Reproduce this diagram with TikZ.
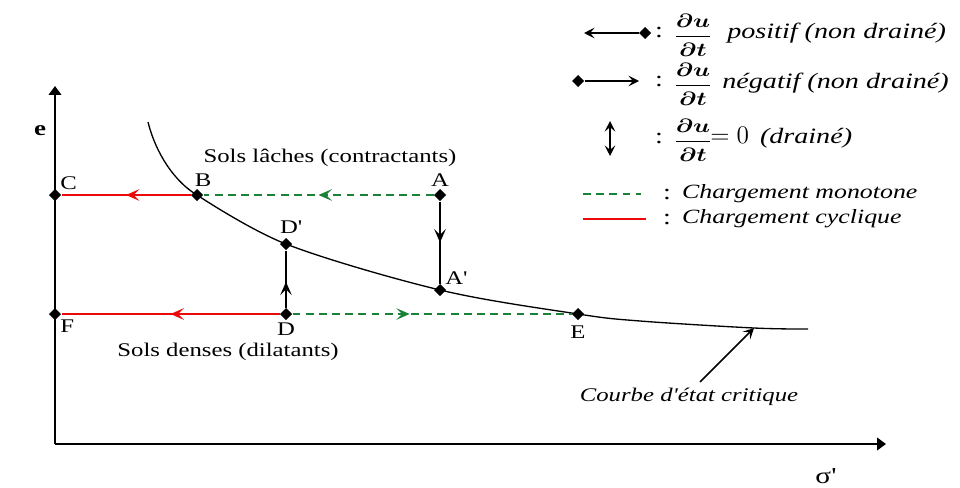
\documentclass[tikz,border=0pt]{standalone}
\usepackage{fontspec}
\setmainfont[FakeStretch=1.28,Ligatures=TeXOff]{Liberation Serif}
\usetikzlibrary{shapes.geometric,arrows.meta,decorations.markings}

\definecolor{monogreen}{RGB}{25,130,55}
\definecolor{cycred}{RGB}{235,10,10}

\tikzset{
  pt/.style={diamond,fill=black,inner sep=0pt,minimum width=7pt,minimum height=7pt},
  lbl/.style={font=\fontsize{11}{13}\selectfont,inner sep=1pt},
  leg/.style={font=\fontsize{12.5}{15}\selectfont,inner sep=0pt},
  frac/.style={font=\fontsize{11}{13}\selectfont\boldmath,inner sep=0pt},
  midarrow/.style={postaction={decorate},decoration={markings,
    mark=at position #1 with {\arrow{Stealth[length=7.5pt,width=6.5pt,inset=3.2pt]}}}},
  midarrow/.default=0.5,
  mono/.style={monogreen,dash pattern=on 4.5pt off 3pt,line width=1.1pt},
  cyc/.style={cycred,line width=1.7pt},
  vert/.style={black,line width=1.1pt},
  axis/.style={line width=1.5pt,-{Triangle[length=5pt,width=7pt]}},
  legtip/.tip={Stealth[length=6pt,width=6pt,inset=2.5pt]}
}

\begin{document}
\begin{tikzpicture}[x=0.02cm,y=-0.02cm]
\useasboundingbox (0,0) rectangle (960,487);

\coordinate (O) at (55,444);
\coordinate (ytip) at (55,86);
\coordinate (xtip) at (886,444);
\draw[axis] (O) -- (ytip);
\draw[axis] (O) -- (xtip);
\node[lbl,font=\fontsize{12}{14}\selectfont\bfseries] (elbl) at (40,131) {e};
\node[lbl,font=\fontsize{13}{15}\selectfont] (slbl) at (826,476) {σ'};

\node[pt,label={[lbl]above right:C}] (C) at (55,195) {};
\node[pt,label={[lbl,xshift=3.5pt]above:B}] (B) at (197,195) {};
\node[pt,label={[lbl]above:A}] (A) at (440,195) {};
\node[pt,label={[lbl,xshift=3pt,yshift=1pt]above:D'}] (Dp) at (286,244) {};
\node[pt,label={[lbl]above right:A'}] (Ap) at (440,290) {};
\node[pt,label={[lbl]below right:F}] (F) at (55,314) {};
\node[pt,label={[lbl]below:D}] (D) at (286,314) {};
\node[pt,label={[lbl,yshift=-2pt]below:E}] (E) at (578,314) {};

\coordinate (cs) at (148,122);
\coordinate (ce) at (808,329);
\coordinate (chead) at (754,328);
\coordinate (ctail) at (700,382);
\draw[line width=0.75pt] (cs) .. controls (156,154) and (175,182) .. (B.center)
  plot[smooth,tension=0.55] coordinates
  {(B.center) (Dp.center) (Ap.center) (E.center) (640,321) (chead) (ce)};

\draw[cyc,midarrow] (B) -- (C);
\draw[mono,midarrow] (A) -- (B);
\draw[vert,midarrow] (A) -- (Ap);
\draw[vert,midarrow=0.45] (D) -- (Dp);
\draw[cyc,midarrow] (D) -- (F);
\draw[mono,midarrow=0.42] (D) -- (E);

\node[lbl] (loose) at (330,158) {Sols lâches (contractants)};
\node[lbl] (dense) at (228,352) {Sols denses (dilatants)};
\node[lbl,font=\fontsize{11}{13}\selectfont\itshape] (crit) at (689,397) {Courbe d'état critique};
\draw[line width=0.9pt,-legtip] (ctail) -- (chead);

\coordinate (l1a) at (584,33);
\node[pt] (l1b) at (645,33) {};
\draw[line width=1pt,legtip-] (l1a) -- (l1b);
\node[leg] (k1) at (659,33) {:};
\node[frac] (f1) at (693,35) {\scalebox{1.3}[1]{$\displaystyle\frac{\partial u}{\partial t}$}};
\node[leg,anchor=west] (t1) at (727,33) {\itshape positif (non drainé)};

\node[pt] (l2a) at (578,81) {};
\coordinate (l2b) at (639,81);
\draw[line width=1pt,-legtip] (l2a) -- (l2b);
\node[leg] (k2) at (659,81) {:};
\node[frac] (f2) at (693,84) {\scalebox{1.3}[1]{$\displaystyle\frac{\partial u}{\partial t}$}};
\node[leg,anchor=west] (t2) at (722,83) {\itshape négatif (non drainé)};

\coordinate (l3a) at (610,121);
\coordinate (l3b) at (610,156);
\draw[line width=1pt,legtip-legtip] (l3a) -- (l3b);
\node[leg] (k3) at (659,138) {:};
\node[frac] (f3) at (693,140) {\scalebox{1.3}[1]{$\displaystyle\frac{\partial u}{\partial t}$}};
\node[leg,anchor=west] (t3) at (710,138) {{\fontsize{14}{16}\selectfont$=0$}\enspace\itshape(drainé)};

\coordinate (l4a) at (583,194);
\coordinate (l4b) at (641,194);
\draw[mono] (l4a) -- (l4b);
\node[leg] (k4) at (667,194) {:};
\node[lbl,anchor=west,font=\fontsize{11.5}{14}\selectfont\itshape] (t4) at (680,194) {Chargement monotone};

\coordinate (l5a) at (583,219);
\coordinate (l5b) at (646,219);
\draw[cyc] (l5a) -- (l5b);
\node[leg] (k5) at (667,219) {:};
\node[lbl,anchor=west,font=\fontsize{11.5}{14}\selectfont\itshape] (t5) at (680,219) {Chargement cyclique};
\end{tikzpicture}
\end{document}
